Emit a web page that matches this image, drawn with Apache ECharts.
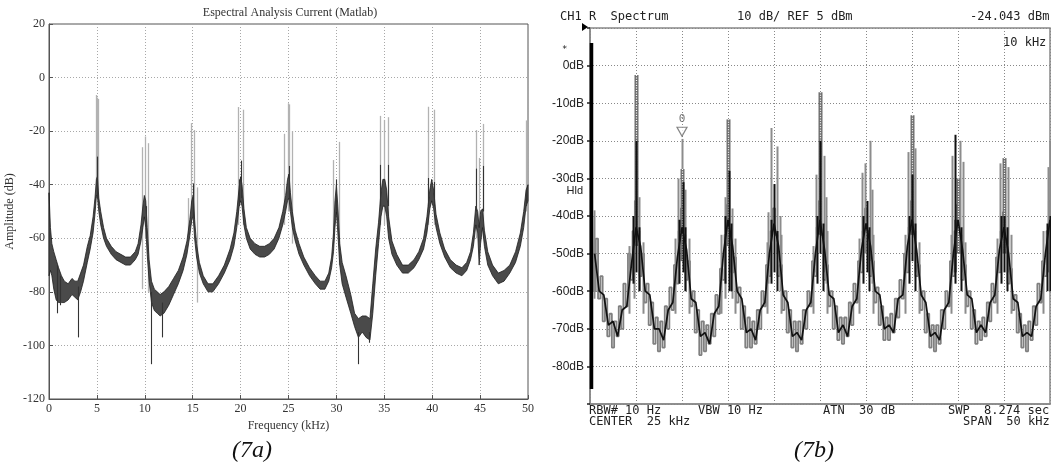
<!DOCTYPE html>
<html><head><meta charset="utf-8">
<script src="https://cdn.jsdelivr.net/npm/echarts@6/dist/echarts.min.js"></script>
<style>html,body{margin:0;padding:0;background:#fff;}#c{width:1051px;height:469px;}</style>
</head><body><div id="c"></div>
<script>
// ===== Figure 7a : Matlab spectrum (kHz, dB) =====
const aFreq = [0.00,0.15,0.30,0.50,0.75,1.0,1.3,1.6,2.0,2.4,2.7,3.0,3.3,3.6,4.0,4.3,4.6,4.8,4.95,5.05,5.2,5.4,5.7,6.0,6.5,7.0,7.5,8.0,8.5,9.0,9.3,9.6,9.8,9.95,10.1,10.25,10.45,10.7,11.0,11.3,11.6,12.0,12.5,13.0,13.5,14.0,14.4,14.7,14.9,15.05,15.2,15.4,15.7,16.1,16.6,17.1,17.7,18.3,18.9,19.3,19.6,19.85,20.0,20.15,20.35,20.6,21.0,21.5,22.0,22.5,23.0,23.5,24.0,24.4,24.7,24.9,25.05,25.2,25.4,25.7,26.1,26.6,27.2,27.8,28.3,28.8,29.2,29.5,29.7,29.85,30.0,30.15,30.35,30.6,31.0,31.5,31.9,32.3,32.7,33.1,33.5,33.8,34.1,34.4,34.65,34.85,35.05,35.25,35.45,35.8,36.3,36.9,37.5,38.1,38.6,39.1,39.45,39.75,39.95,40.15,40.4,40.8,41.3,41.9,42.5,43.1,43.6,44.0,44.3,44.55,44.75,44.9,45.05,45.25,45.45,45.8,46.3,46.9,47.5,48.1,48.7,49.2,49.55,49.8,50.0];
const aLow  = [-74,-72,-74,-79,-83,-84,-84,-84,-83,-81,-82,-83,-80,-76,-69,-64,-58,-51,-44,-44,-50,-55,-60,-63,-66,-68,-69,-70,-70,-68,-66,-61,-56,-52,-56,-66,-76,-84,-87,-88,-89,-88,-85,-81,-77,-72,-66,-59,-53,-52,-60,-67,-73,-77,-80,-80,-77,-73,-68,-63,-56,-48,-46,-48,-55,-60,-64,-66,-67,-67,-66,-64,-60,-55,-50,-46,-45,-50,-56,-61,-66,-70,-74,-77,-79,-79,-76,-71,-65,-56,-50,-58,-70,-77,-82,-88,-93,-97,-95,-97,-98,-88,-74,-62,-52,-48,-48,-52,-60,-66,-70,-73,-73,-71,-68,-64,-58,-49,-46,-49,-56,-62,-67,-71,-73,-74,-72,-68,-63,-55,-58,-70,-62,-56,-63,-70,-74,-77,-76,-73,-69,-63,-56,-48,-46];
const aHigh = [-43,-56,-62,-65,-68,-71,-74,-76,-77,-75,-76,-76,-73,-70,-63,-59,-52,-45,-38,-37,-45,-50,-56,-60,-63,-65,-66,-67,-67,-65,-62,-55,-48,-44,-46,-56,-68,-76,-79,-80,-81,-80,-78,-75,-72,-67,-61,-53,-46,-44,-53,-62,-69,-74,-77,-77,-74,-70,-64,-58,-50,-41,-37,-40,-49,-56,-60,-62,-63,-63,-62,-60,-56,-50,-44,-38,-36,-43,-50,-57,-62,-67,-71,-74,-76,-76,-73,-67,-58,-46,-40,-48,-62,-69,-74,-81,-88,-90,-89,-89,-90,-77,-64,-54,-43,-38,-38,-42,-52,-61,-66,-70,-70,-68,-65,-60,-52,-42,-38,-42,-51,-58,-64,-68,-70,-71,-69,-65,-58,-48,-50,-56,-50,-49,-57,-65,-70,-73,-72,-70,-65,-58,-50,-42,-40];
// light grey harmonic lines: frequency, top, bottom
const aLightF   = [4.87,5.05,5.15,9.68,10.02,10.37,14.5,14.8,15.14,15.45,19.7,20.28,24.56,24.92,25.08,25.33,29.68,30.27,34.55,35.0,35.35,39.6,40.2,44.55,44.9,45.27,49.75];
const aLightTop = [-6.5,-7.5,-8,-26,-22,-24.5,-45,-17,-19.6,-41,-11,-12,-21,-9.6,-10,-20,-30.8,-24,-14.3,-15.8,-14.8,-10.9,-12,-19.6,-30,-17.3,-16];
const aLightBot = [-45,-45,-48,-79,-60,-80,-60,-55,-55,-84,-55,-55,-55,-50,-50,-62,-62,-70,-55,-55,-58,-55,-55,-60,-62,-60,-50];
// dark trace excursions: frequency, top, bottom
const aDarkF   = [0.8,1.2,3.0,5.0,10.1,10.65,11.8,15.0,19.8,20.05,25.0,29.95,32.3,33.4,34.5,35.4,39.6,40.2,44.55,45.3,49.8];
const aDarkTop = [-70,-74,-78,-29.5,-48,-80,-84,-39.5,-38,-31,-33,-38,-95,-95,-32.6,-32.6,-37.5,-39,-34,-33,-42];
const aDarkBot = [-88,-85,-97,-45,-60,-107,-97,-52,-48,-45,-45,-50,-107,-99,-48,-48,-48,-48,-50,-50,-48];

// ===== Figure 7b : analyser spectrum (kHz, dB) =====
const bStepKHz = 0.25;   // analyser trace bins 0.25 .. 50 kHz
const bLevel = [
 -40,-60,-46,-62,-56,-68,-62,-72,-66,-75,-68,-72,-64,-70,-58,-64,-50,-57,-44,-36,
 -44,-56,-50,-63,-58,-69,-63,-74,-67,-76,-68,-75,-64,-70,-59,-65,-53,-58,-44,-38,
 -45,-57,-52,-64,-60,-71,-65,-77,-68,-76,-69,-74,-66,-72,-61,-66,-54,-57,-45,-37,
 -44,-55,-51,-63,-59,-70,-64,-75,-67,-75,-68,-74,-65,-70,-60,-64,-53,-56,-44,-38,
 -45,-56,-53,-65,-60,-71,-65,-75,-68,-76,-68,-74,-65,-70,-60,-64,-52,-56,-43,-36,
 -45,-57,-53,-64,-60,-70,-64,-73,-67,-74,-67,-72,-63,-69,-58,-63,-52,-55,-44,-38,
 -44,-56,-52,-63,-59,-69,-64,-73,-67,-73,-66,-71,-62,-67,-57,-62,-50,-55,-43,-36,
 -44,-56,-53,-65,-60,-71,-66,-75,-69,-76,-69,-74,-65,-70,-60,-64,-52,-56,-44,-37,
 -45,-57,-53,-64,-60,-70,-65,-74,-68,-73,-67,-72,-63,-68,-58,-63,-51,-55,-44,-39,
 -46,-58,-54,-65,-61,-71,-66,-75,-69,-76,-68,-73,-64,-69,-58,-63,-52,-56,-44,-36];
const cStepKHz = 0.5;    // dark core trace bins 0.5 .. 50 kHz
const cLevel = [
 -50,-60,-61,-69,-68,-72,-65,-64,-53,-43,
 -48,-60,-61,-70,-70,-73,-65,-63,-51,-43,
 -49,-62,-63,-72,-71,-74,-66,-64,-50,-41,
 -48,-60,-62,-71,-70,-73,-65,-63,-50,-42,
 -48,-61,-63,-72,-71,-73,-65,-63,-50,-41,
 -49,-61,-62,-71,-69,-72,-64,-62,-49,-42,
 -48,-60,-61,-70,-69,-71,-62,-61,-48,-41,
 -49,-61,-63,-72,-71,-73,-65,-63,-50,-41,
 -49,-61,-62,-71,-69,-71,-63,-61,-49,-43,
 -50,-62,-63,-72,-71,-72,-64,-62,-50,-41];
// harmonic lines: frequency, top, bottom, kind (0 hatched, 1 grey, 2 black, 3 heavy black)
const bSpikeF   = [0.1,0.45,5.0,4.75,5.3,10.0,10.0,9.6,10.35,15.0,14.7,15.4,19.7,20.35,19.4,20.6,25.0,24.6,25.4,25.7,29.6,29.9,30.4,30.7,35.0,34.6,35.35,40.0,40.2,39.4,40.5,45.0,44.6,45.4,49.8,50.0,
  4.2,5.8,9.2,10.8,14.2,15.8,19.2,20.8,24.2,25.8,29.2,30.8,34.2,35.8,39.2,40.8,44.2,45.8,49.2,
  5.0,10.1,15.1,20.0,25.0,30.1,35.0,39.7,45.0,49.95,
  4.7,5.3,9.7,10.3,14.7,15.3,19.7,20.3,24.7,25.3,29.7,30.3,34.7,35.3,39.7,40.3,44.7,45.3,49.7];
const bSpikeTop = [6,-38.5,-2.5,-40,-35,-19.5,-27.5,-30,-33,-14.3,-35,-38,-16.6,-21.5,-39,-40,-7.1,-29,-24,-35,-28.5,-26,-20,-33,-13.2,-23,-22,-30,-20,-24,-25.6,-24.6,-26,-27,-27,-20,
  -48,-47,-46,-46,-45,-46,-47,-45,-48,-44,-46,-45,-45,-47,-45,-47,-46,-45,-44,
  -20,-31,-28,-31.5,-20,-36,-29,-18.4,-40,-40,
  -40,-43,-41,-43,-40,-42,-41,-44,-40,-42,-40,-43,-40,-42,-41,-43,-40,-43,-42];
const bSpikeBot = [-86,-62,-48,-62,-60,-27.5,-52,-58,-60,-48,-62,-62,-45,-50,-58,-60,-45,-55,-55,-58,-52,-50,-52,-58,-45,-55,-55,-50,-50,-55,-55,-50,-55,-55,-55,-50,
  -66,-66,-66,-66,-66,-66,-66,-66,-66,-66,-66,-66,-66,-66,-66,-66,-66,-66,-66,
  -55,-55,-60,-55,-50,-55,-52,-55,-55,-60,
  -58,-60,-58,-60,-58,-60,-58,-60,-58,-60,-58,-60,-58,-60,-58,-60,-58,-60,-60];
const bSpikeKind= [3,1,0,1,1,1,0,1,1,0,1,1,1,1,1,1,0,1,1,1,1,1,1,1,0,1,1,0,1,1,1,0,1,1,1,1,
  1,1,1,1,1,1,1,1,1,1,1,1,1,1,1,1,1,1,1,
  2,2,2,2,2,2,2,2,2,2,
  2,2,2,2,2,2,2,2,2,2,2,2,2,2,2,2,2,2,2];
const bMarkerF = 10, bMarkerDb = -17.6, bMarkerLabel = '0';
const bYTicks = [10,0,-10,-20,-30,-40,-50,-60,-70,-80,-90];

// ----- build -----
const bTrace = bLevel.map((v, i) => [(i + 1) * bStepKHz, v]);
const cTrace = cLevel.map((v, i) => [(i + 1) * cStepKHz, v]);

function bandRender(fr, lo, hi, fill, stroke) {
  return function (params, api) {
    if (params.dataIndex !== 0) return null;
    const pts = [];
    for (let i = 0; i < fr.length; i++) pts.push(api.coord([fr[i], hi[i]]));
    for (let i = fr.length - 1; i >= 0; i--) pts.push(api.coord([fr[i], lo[i]]));
    return { type: 'polygon', shape: { points: pts }, style: { fill: fill, stroke: stroke, lineWidth: 0.8 } };
  };
}
function lineEl(p1, p2, stroke, w, dash) {
  const x = Math.round(p1[0]) + 0.5;
  const st = { stroke: stroke, lineWidth: w };
  if (dash) st.lineDash = dash;
  return { type: 'line', shape: { x1: x, y1: p1[1], x2: x, y2: p2[1] }, style: st };
}
function spikeRender(kindStyle) {
  return function (params, api) {
    const f = api.value(0), t = api.value(1), b = api.value(2), k = api.value(3);
    const p1 = api.coord([f, t]), p2 = api.coord([f, b]);
    return kindStyle(k, p1, p2);
  };
}
const leftStyle = (k, p1, p2) => k === 0 ? lineEl(p1, p2, '#b2b2b2', 1.3) : lineEl(p1, p2, '#333', 1.1);
const rightStyle = (k, p1, p2) => {
  if (k === 0) return { type: 'group', children: [lineEl(p1, p2, '#6e6e6e', 4), lineEl(p1, p2, '#fff', 1.2, [1, 1.5])] };
  if (k === 1) return lineEl(p1, p2, '#8c8c8c', 2);
  if (k === 2) return lineEl(p1, p2, '#111', 2);
  return lineEl(p1, p2, '#000', 3.5);
};

const serif = '"Liberation Serif", "Times New Roman", serif';
const mono = '"DejaVu Sans Mono", "Liberation Mono", monospace';
const sans = '"Liberation Sans", Arial, sans-serif';

function txt(text, x, y, font, align, fill) {
  return { type: 'text', x: x, y: y, silent: true,
    style: { text: text, font: font, fill: fill || '#222', textAlign: align || 'left', align: align || 'left', textVerticalAlign: 'middle', verticalAlign: 'middle' } };
}

const chart = echarts.init(document.getElementById('c'), null, { renderer: 'canvas' });
chart.setOption({
  animation: false,
  backgroundColor: '#fff',
  grid: [
    { left: 49, top: 24, width: 479, height: 375, show: true, borderColor: '#555', borderWidth: 1 },
    { left: 590, top: 28, width: 460, height: 376, show: true, borderColor: '#888', borderWidth: 1.5 }
  ],
  xAxis: [
    { gridIndex: 0, type: 'value', min: 0, max: 50, interval: 5,
      name: 'Frequency (kHz)', nameLocation: 'middle', nameGap: 21,
      nameTextStyle: { fontFamily: serif, fontSize: 12, color: '#333' },
      axisLine: { onZero: false, lineStyle: { color: '#555' } },
      axisTick: { inside: true, length: 4, lineStyle: { color: '#555' } },
      axisLabel: { fontFamily: serif, fontSize: 12, color: '#333', margin: 4 },
      splitLine: { show: true, lineStyle: { color: '#a8a8a8', type: [1, 2] } } },
    { gridIndex: 1, type: 'value', min: 0, max: 50, interval: 5,
      axisLine: { onZero: false, lineStyle: { color: '#888', width: 1.5 } },
      axisTick: { show: false }, axisLabel: { show: false },
      splitLine: { show: true, lineStyle: { color: '#888', type: [1, 2] } } }
  ],
  yAxis: [
    { gridIndex: 0, type: 'value', min: -120, max: 20, interval: 20,
      name: 'Amplitude (dB)', nameLocation: 'middle', nameGap: 33,
      nameTextStyle: { fontFamily: serif, fontSize: 12, color: '#333' },
      axisLine: { onZero: false, lineStyle: { color: '#555' } },
      axisTick: { inside: true, length: 4, lineStyle: { color: '#555' } },
      axisLabel: { fontFamily: serif, fontSize: 12, color: '#333', margin: 4 },
      splitLine: { show: true, lineStyle: { color: '#a8a8a8', type: [1, 2] } } },
    { gridIndex: 1, type: 'value', min: bYTicks[bYTicks.length - 1], max: bYTicks[0], interval: 10,
      axisLine: { onZero: false, lineStyle: { color: '#888', width: 1.5 } },
      axisTick: { show: true, length: 3, lineStyle: { color: '#222', width: 1.5 } },
      axisLabel: { fontFamily: sans, fontSize: 12, color: '#222', margin: 6,
        formatter: v => (v === bYTicks[0] || v === bYTicks[bYTicks.length - 1]) ? '' : v + 'dB' },
      splitLine: { show: true, lineStyle: { color: '#888', type: [1, 2] } } }
  ],
  series: [
    { type: 'custom', xAxisIndex: 0, yAxisIndex: 0, z: 2, silent: true,
      data: aLightF.map((f, i) => [f, aLightTop[i], aLightBot[i], 0]), encode: { x: 0, y: [1, 2] },
      renderItem: spikeRender(leftStyle) },
    { type: 'custom', xAxisIndex: 0, yAxisIndex: 0, z: 3, silent: true,
      data: aFreq.map((f, i) => [f, aLow[i], aHigh[i]]), encode: { x: 0, y: [1, 2] },
      renderItem: bandRender(aFreq, aLow, aHigh, '#4a4a4a', '#1e1e1e') },
    { type: 'custom', xAxisIndex: 0, yAxisIndex: 0, z: 4, silent: true,
      data: aDarkF.map((f, i) => [f, aDarkTop[i], aDarkBot[i], 1]), encode: { x: 0, y: [1, 2] },
      renderItem: spikeRender(leftStyle) },

    { type: 'line', xAxisIndex: 1, yAxisIndex: 1, z: 2, silent: true, showSymbol: false, step: 'middle',
      data: bTrace, lineStyle: { color: '#808080', width: 1.8 } },
    { type: 'custom', xAxisIndex: 1, yAxisIndex: 1, z: 3, silent: true,
      data: bSpikeF.map((f, i) => [f, bSpikeTop[i], bSpikeBot[i], bSpikeKind[i]]), encode: { x: 0, y: [1, 2] },
      renderItem: spikeRender(rightStyle) },
    { type: 'line', xAxisIndex: 1, yAxisIndex: 1, z: 4, silent: true, showSymbol: false,
      data: cTrace, lineStyle: { color: '#111', width: 1.7 } },
    { type: 'scatter', xAxisIndex: 1, yAxisIndex: 1, z: 6, silent: true,
      data: [[bMarkerF, bMarkerDb]], symbol: 'triangle', symbolRotate: 180, symbolSize: [10, 9],
      itemStyle: { color: '#fff', borderColor: '#666', borderWidth: 1.2 },
      label: { show: true, position: 'top', distance: 2, formatter: bMarkerLabel, fontFamily: mono, fontSize: 11, color: '#555' } }
  ],
  graphic: [
    txt('Espectral Analysis Current (Matlab)', 290, 13, '12px ' + serif, 'center', '#333'),
    txt('(7a)', 252, 451, 'italic 24px ' + serif, 'center', '#111'),
    txt('(7b)', 814, 451, 'italic 24px ' + serif, 'center', '#111'),
    txt('CH1 R  Spectrum', 560, 17, '12px ' + mono),
    txt('10 dB/ REF 5 dBm', 737, 17, '12px ' + mono),
    txt('-24.043 dBm', 970, 17, '12px ' + mono),
    txt('10 kHz', 1003, 43, '12px ' + mono),
    txt('RBW# 10 Hz', 589, 411, '12px ' + mono),
    txt('VBW 10 Hz', 698, 411, '12px ' + mono),
    txt('ATN  30 dB', 823, 411, '12px ' + mono),
    txt('SWP  8.274 sec', 948, 411, '12px ' + mono),
    txt('CENTER  25 kHz', 589, 422, '12px ' + mono),
    txt('SPAN  50 kHz', 963, 422, '12px ' + mono),
    txt('*', 562, 50, '9px ' + mono),
    txt('Hld', 583, 191, '11px ' + sans, 'right'),
    { type: 'polygon', silent: true, shape: { points: [[582, 23], [588, 27], [582, 31]] }, style: { fill: '#000' } }
  ]
});
</script></body></html>
